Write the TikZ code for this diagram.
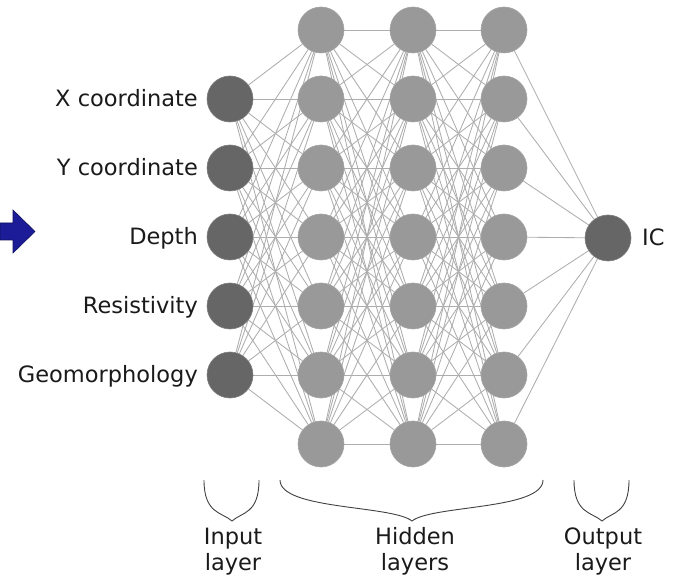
\documentclass[tikz,border=0pt]{standalone}
\usepackage{fontspec}
\setmainfont{DejaVu Sans}
\usetikzlibrary{backgrounds}
\definecolor{inpc}{HTML}{666666}
\definecolor{hidc}{HTML}{999999}
\definecolor{edgec}{HTML}{ADADAD}
\definecolor{txtc}{HTML}{1A1A1A}
\definecolor{arrfill}{HTML}{1C1C98}
\definecolor{arrdraw}{HTML}{10105E}
\begin{document}
\begin{tikzpicture}[x=1pt,y=-1pt,
  inp/.style={circle,fill=inpc,draw=inpc!85!white,line width=0.6pt,minimum size=46pt,inner sep=0pt},
  hid/.style={circle,fill=hidc,draw=hidc!90!white,line width=0.6pt,minimum size=46pt,inner sep=0pt},
  conn/.style={draw=edgec,line width=0.85pt},
  lab/.style={font=\fontsize{22.5}{26}\selectfont,text=txtc,inner sep=0pt},
  bracepath/.style={draw=black!75,line width=0.9pt}]
\useasboundingbox (0,0) rectangle (673,580);

% hidden layers
\foreach \j/\x in {1/321,2/413,3/504}{
  \foreach \k in {0,...,6}{
    \node[hid] (h\j-\k) at (\x,{30+69*\k}) {};
  }
}
% input layer
\foreach \k in {1,...,5}{
  \node[inp] (i\k) at (230,{30+69*\k}) {};
}
% output
\node[inp] (o) at (608,238) {};

% connections
\begin{scope}[on background layer]
  \foreach \a in {1,...,5}{
    \foreach \b in {0,...,6}{
      \draw[conn] (i\a) -- (h1-\b);
    }
  }
  \foreach \a in {0,...,6}{
    \foreach \b in {0,...,6}{
      \draw[conn] (h1-\a) -- (h2-\b);
      \draw[conn] (h2-\a) -- (h3-\b);
    }
    \draw[conn] (h3-\a) -- (o);
  }
\end{scope}

% input labels
\node[lab,anchor=base east] (l1) at (198,107) {X coordinate};
\node[lab,anchor=base east] (l2) at (198,176) {Y coordinate};
\node[lab,anchor=base east] (l3) at (198,245) {Depth};
\node[lab,anchor=base east] (l4) at (198,314) {Resistivity};
\node[lab,anchor=base east] (l5) at (198,383) {Geomorphology};
\node[lab,anchor=base west] (lo) at (642,246) {IC};

% arrow
\filldraw[fill=arrfill,draw=arrdraw,line width=0.6pt]
  (0,223) -- (13,223) -- (13,210) -- (35,231.5) -- (13,253) -- (13,240) -- (0,240) -- cycle;

% braces
\draw[bracepath] (204,480) .. controls (204,514) and (222,512) .. (232,521)
  .. controls (242,512) and (259,514) .. (259,480);
\draw[bracepath] (280,480) .. controls (280,510) and (392,505) .. (412,521)
  .. controls (432,505) and (543,510) .. (543,480);
\draw[bracepath] (574,480) .. controls (574,514) and (592,512) .. (602,521)
  .. controls (612,512) and (629,514) .. (629,480);

% bottom labels
\node[lab,anchor=base] (b1) at (233,544) {Input};
\node[lab,anchor=base] (b2) at (233,570) {layer};
\node[lab,anchor=base] (b3) at (415,544) {Hidden};
\node[lab,anchor=base] (b4) at (415,570) {layers};
\node[lab,anchor=base] (b5) at (603,544) {Output};
\node[lab,anchor=base] (b6) at (603,570) {layer};
\end{tikzpicture}
\end{document}
